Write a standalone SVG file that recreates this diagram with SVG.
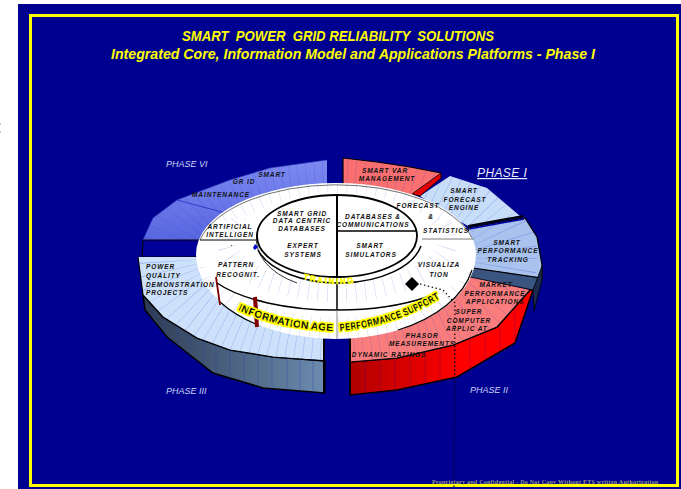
<svg xmlns="http://www.w3.org/2000/svg" width="681" height="489" viewBox="0 0 681 489">
<style>
.l{font:italic bold 6.5px "Liberation Sans",Arial,sans-serif;letter-spacing:.9px;fill:#111;text-anchor:middle}
.ls{text-anchor:start}
.ph{font:italic 9px "Liberation Sans",Arial,sans-serif;fill:#c8d4f4}
.t{font:italic bold 14px "Liberation Sans",Arial,sans-serif;fill:#ffff00;text-anchor:middle}
.y{font:bold 10px "Liberation Sans",Arial,sans-serif;fill:#111;stroke:#ffff00;stroke-width:3.500px;paint-order:stroke;stroke-linejoin:round}
.e{fill:none;stroke:#000;stroke-width:1.5}
.k{fill:none;stroke:#000;stroke-width:1.2;stroke-linejoin:round}
</style>
<defs>
<linearGradient id="gb" x1="0" x2="1" y1="0" y2="0"><stop offset="0" stop-color="#2c3a52"/><stop offset="1" stop-color="#6c8cb0"/></linearGradient>
<linearGradient id="gr" x1="0" x2="1" y1="0" y2="0"><stop offset="0" stop-color="#b00000"/><stop offset=".6" stop-color="#ff0000"/><stop offset="1" stop-color="#ff0000"/></linearGradient>
<linearGradient id="gv" x1="0" x2="0" y1="0" y2="1"><stop offset="0" stop-color="#7e8af0"/><stop offset="1" stop-color="#5866e0"/></linearGradient>
<clipPath id="ring"><path d="M327,160 L270,168 177,200 153,218 143,240 205,240 205,257 138,257 143,295 163,317 197,338 230,350 273,357 323,360 323,339 350,339 350,362 397,358 453,345 497,327 530,290 470,277 472,230 525,218 537,237 542,265 542,278 473,268 468,228 520,217 487,188 450,176 420,195 441,173 410,167 377,162 343,158 343,190 327,190Z"/></clipPath>
<clipPath id="sideL"><path d="M143,295 L163,317 197,338 230,350 273,357 325,361 325,393 263,388 213,373 167,337 145,310Z"/></clipPath>
<clipPath id="sideR"><path d="M350,362 L397,358 453,345 497,327 530,290 533,290 515,343 457,377 397,390 350,395Z"/></clipPath>
</defs>
<rect x="18" y="4" width="663" height="485" fill="#000090"/>
<rect x="30.500" y="15.500" width="647" height="470" fill="none" stroke="#ffff00" stroke-width="3"/>
<rect x="0" y="123" width="1" height="2" fill="#ccc"/><rect x="0" y="131" width="1" height="2" fill="#ccc"/>

<g id="title">
<text class="t" x="338" y="41" textLength="312" lengthAdjust="spacingAndGlyphs" xml:space="preserve">SMART  POWER  GRID RELIABILITY  SOLUTIONS</text>
<text class="t" x="353" y="59" textLength="484" lengthAdjust="spacingAndGlyphs">Integrated Core, Information Model and Applications Platforms - Phase I</text>
</g>

<g id="phase-vi">
<path d="M327,160 L270,168 230,180 177,200 153,218 143,240 250,240 327,200Z" fill="url(#gv)"/>
<path d="M327,160 L270,168 230,180 177,200 153,218 143,240" fill="none" stroke="#3040c0" stroke-width=".6"/>
<path d="M177,200 L270,225" stroke="#2030c0" stroke-width=".8" fill="none"/>
<path d="M143,240 L208,240 208,257 142,257Z" fill="#000099" stroke="#000" stroke-width="1"/>
<text class="ph" x="166" y="167">PHASE VI</text>
<text class="l" x="272" y="177">SMART</text><text class="l" x="244" y="184">GR ID</text><text class="l" x="221" y="197">MAINTENANCE</text>
</g>
<g id="phase-iii">
<path d="M143,295 L163,317 197,338 230,350 273,357 325,361 325,393 263,388 213,373 167,337 145,310Z" fill="url(#gb)" stroke="#000" stroke-width="1.500"/>
<path d="M138,257 L210,257 323,320 323,360 273,357 230,350 197,338 163,317 143,295Z" fill="#cde2fa"/>
<path d="M138,257 L143,295 163,317 197,338 230,350 273,357 325,361" class="k"/>
<path d="M324,339 V393" stroke="#000" stroke-width="2"/>
<text class="ph" x="166" y="394">PHASE III</text>
</g>
<g id="phase-ii">
<path d="M350,362 L397,358 453,345 497,327 530,290 533,290 515,343 457,377 397,390 350,395Z" fill="url(#gr)" stroke="#000" stroke-width="1.500"/>
<path d="M350,362 L397,358 453,345 497,327 530,290 472,277 400,300 350,320Z" fill="#fa7d7d"/>
<path d="M350,338 V395" stroke="#000" stroke-width="2"/>
<path d="M350,362 L397,358 453,345 497,327 530,290" class="k"/>
<path d="M472,267 L541,278 533,290 470,277Z" fill="#3a5580" stroke="#000" stroke-width=".8"/>
<text class="ph" x="470" y="393">PHASE II</text>
</g>
<g id="phase-i">
<path d="M468,228 L525,218 537,237 542,265 542,278 473,268Z" fill="#a9c3ee" stroke="#000" stroke-width="1.200"/>
<path d="M542,266 V280 L534,311 533,290Z" fill="#1a2a50" stroke="#000" stroke-width=".8"/>
<path d="M420,196 L450,176 487,188 520,216 468,226 440,210Z" fill="#c8def8"/>
<path d="M468,226 L523,216" stroke="#000" stroke-width="2" fill="none"/>
<path d="M469,229 L524,219" stroke="#0000aa" stroke-width="1.500" fill="none"/>
<text x="477" y="177" style="font:italic 12px 'Liberation Sans',Arial,sans-serif;letter-spacing:.4px;fill:#e8eeff;text-decoration:underline">PHASE I</text>
</g>
<g id="phase-var">
<path d="M343,158 L377,162 410,167 441,173 412,196 343,190Z" fill="#fa7070"/>
<path d="M441,173 L441,178 420,196 412,194Z" fill="#e80000" stroke="#000" stroke-width=".8"/>
<path d="M343,190 V158 L377,162 410,167 441,173" class="k" stroke-width="1.500"/>
</g>
<g id="hatching">
<ellipse cx="336" cy="258" rx="165" ry="92" fill="none" stroke="#3040d0" stroke-opacity=".3" stroke-width="72" stroke-dasharray=".5 8" clip-path="url(#ring)"/>
<g stroke="#3040b0" stroke-opacity=".6" stroke-width=".6" clip-path="url(#sideL)"><path d="M155,280V340M165,280V340M178,290V350M190,300V360M203,310V380M216,320V380M230,320V385M244,330V390M258,330V395M272,330V395M287,340V395M300,340V395M313,340V395"/></g>
<g stroke="#600060" stroke-opacity=".6" stroke-width=".6" clip-path="url(#sideR)"><path d="M365,350V400M380,350V400M395,350V400M410,340V400M425,340V400M440,340V400M455,330V400M470,330V400M485,320V400M500,310V400M515,290V400"/></g>
</g>
<g id="hub">
<path id="disc" d="M196,254 A140,71 0 0 1 476,254 A140,85 0 0 1 196,254Z" fill="#fff"/>
<ellipse cx="336" cy="261" rx="125" ry="68" fill="none" stroke="#6070d0" stroke-opacity=".3" stroke-width="22" stroke-dasharray=".5 9"/>
<ellipse cx="337" cy="256" rx="137" ry="54" fill="#fff"/>
<ellipse cx="337" cy="240" rx="110" ry="52" fill="none" stroke="#6070d0" stroke-opacity=".35" stroke-width="20" stroke-dasharray=".5 9" stroke-dashoffset="2" clip-path="inset(40px 0 0 0)"/>
<ellipse cx="337" cy="238" rx="100" ry="45" fill="#fff"/>
<path d="M200,240 A140,71 0 0 1 472,238" fill="none" stroke="#333" stroke-width=".7"/>
<path d="M220,302 A140,85 0 0 0 258,325" class="k" stroke-width="1.500"/>
<path d="M398,330 A140,85 0 0 0 472,270" class="k" stroke-width="1.500"/>
<path d="M217,283 A137,54 0 0 0 337,310 A137,54 0 0 0 427,297" class="e"/>
<path d="M258,250 A84,46 0 0 0 421,246" class="e"/>
<ellipse cx="337" cy="236" rx="80" ry="41" fill="#fff" stroke="#000" stroke-width="1.800"/>
<path d="M257,233 A80,50 0 0 0 297,283" fill="none" stroke="#000" stroke-width=".8"/>
<path d="M337,195 V276" stroke="#000" stroke-width="2"/>
<path d="M337,276 V310" stroke="#000" stroke-width="1.500"/>
<path d="M337,310 V339" stroke="#888" stroke-width="1"/>
<path d="M337,231 H417" stroke="#000" stroke-width="1.500"/>
<path d="M422,239 H474" stroke="#555" stroke-width=".8"/>
<path d="M200,240 H256" stroke="#000" stroke-width="1"/>
<path d="M255,244 L258,247 255,250 253,248Z" fill="#0000cc"/>
<path d="M216,277 L220,305" stroke="#800000" stroke-width="1.800"/>
<path d="M255,297 L257,327" stroke="#800000" stroke-width="4"/>
</g>
<g id="connectors">
<path d="M420,284 L443,290 455,303 454,487" fill="none" stroke="#000" stroke-width="1.200" stroke-dasharray="1.500 2.500"/>
</g>
<g id="visualization-marker"><path d="M412,277 L419,284 412,291 405,284Z" fill="#000"/></g>
<g id="labels">
<text class="l" x="385" y="173">SMART VAR</text><text class="l" x="387" y="181">MANAGEMENT</text>
<text class="l" x="464" y="193">SMART</text><text class="l" x="465" y="202">FORECAST</text><text class="l" x="464" y="210">ENGINE</text>
<text class="l" x="507" y="245">SMART</text><text class="l" x="508" y="253">PERFORMANCE</text><text class="l" x="508" y="262">TRACKING</text>
<text class="l" x="496" y="287">MARKET</text><text class="l" x="495" y="296">PERFORMANCE</text><text class="l" x="495" y="304">APPLICATIONS</text>
<text class="l" x="469" y="314">SUPER</text><text class="l" x="469" y="323">COMPUTER</text><text class="l" x="468" y="331">APPLIC AT.</text>
<text class="l" x="422" y="338">PHASOR</text><text class="l" x="422" y="346">MEASUREMENTS</text>
<text class="l" x="389" y="357">DYNAMIC RATINGS</text>
<text class="l" x="439" y="267">VISUALIZA</text><text class="l" x="439" y="277">TION</text>
<text class="l" x="418" y="208">FORECAST</text><text class="l" x="431" y="219">&amp;</text><text class="l" x="446" y="233">STATISTICS</text>
<text class="l" x="373" y="219">DATABASES &amp;</text><text class="l" x="373" y="227">COMMUNICATIONS</text>
<text class="l" x="370" y="248">SMART</text><text class="l" x="371" y="257">SIMULATORS</text>
<text class="l" x="302" y="216">SMART GRID</text><text class="l" x="302" y="223">DATA CENTRIC</text><text class="l" x="302" y="231">DATABASES</text>
<text class="l" x="303" y="248">EXPERT</text><text class="l" x="303" y="257">SYSTEMS</text>
<text class="l" x="230" y="229">ARTIFICIAL</text><text class="l" x="230" y="237">INTELLIGEN</text><text class="l" x="232" y="246">.</text>
<text class="l" x="236" y="267">PATTERN</text><text class="l" x="238" y="277">RECOGNIT.</text>
<text class="l ls" x="146" y="269">POWER</text><text class="l ls" x="146" y="278">QUALITY</text><text class="l ls" x="146" y="287">DEMONSTRATION</text><text class="l ls" x="146" y="295">PROJECTS</text>
</g>
<g id="banners">
<path id="p1" d="M303,279 Q335,288 365,281" fill="none"/>
<path id="p2" d="M238,310 Q280,329 333,331" fill="none"/>
<path id="p3" d="M340,331 Q395,326 440,298" fill="none"/>
<text style="font:bold 8px 'Liberation Sans',Arial,sans-serif;letter-spacing:1.800px;fill:#ffff00;stroke:#ffff00;stroke-width:.5px"><textPath href="#p1">TRAINING</textPath></text>
<text class="y"><textPath href="#p2" textLength="98" lengthAdjust="spacingAndGlyphs">INFORMATION AGE</textPath></text>
<text class="y"><textPath href="#p3" textLength="106" lengthAdjust="spacingAndGlyphs">PERFORMANCE SUPPORT</textPath></text>
</g>
<text x="432" y="484" textLength="226" style="font:bold 6px 'Liberation Serif','Times New Roman',serif;fill:#9a9a80">Proprietary and Confidential - Do Not Copy Without ETS written Authorization</text>
</svg>
